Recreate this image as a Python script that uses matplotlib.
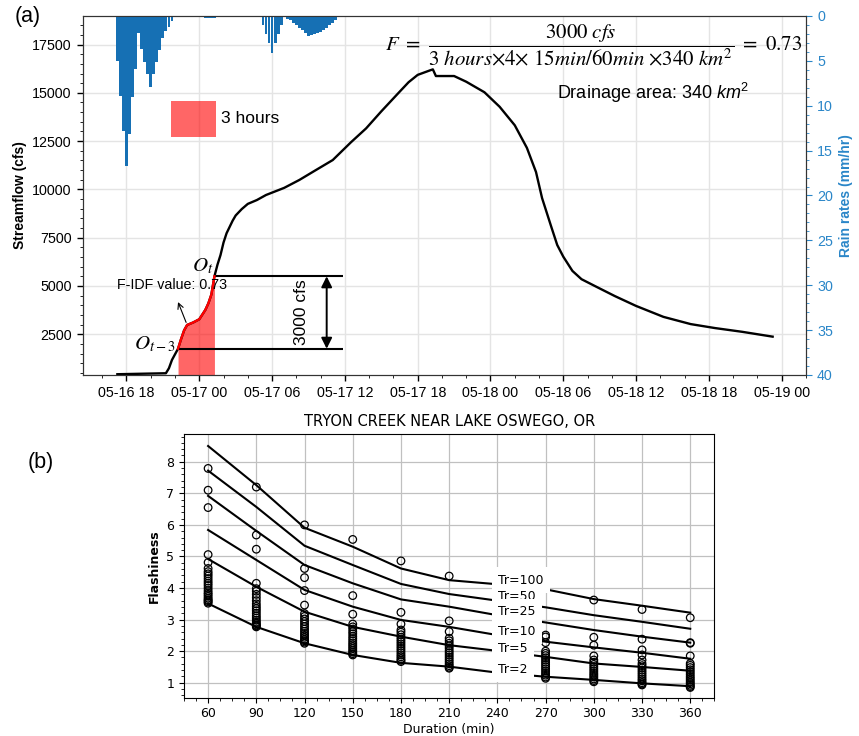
import numpy as np
import pandas as pd
import matplotlib
matplotlib.use("Agg")
import matplotlib.pyplot as plt
import matplotlib.dates as mdates
from matplotlib.patches import Rectangle
from matplotlib.ticker import AutoMinorLocator, MultipleLocator

plt.rcParams["font.family"] = ["Liberation Sans", "DejaVu Sans"]
plt.rcParams["mathtext.fontset"] = "custom"
plt.rcParams["mathtext.rm"] = "Liberation Sans"
plt.rcParams["mathtext.it"] = "Liberation Sans:italic"

YEAR = "2019-"

# ---------------- panel (a): hydrograph and rain ----------------
flow_time = [
    "05-16 17:15", "05-16 21:15", "05-16 21:30", "05-16 21:45", "05-16 22:15",
    "05-16 22:30", "05-16 22:45", "05-16 23:00", "05-16 23:30", "05-17 00:00",
    "05-17 00:30", "05-17 00:45", "05-17 01:00", "05-17 01:15", "05-17 01:30",
    "05-17 01:45", "05-17 02:00", "05-17 02:15", "05-17 02:45", "05-17 03:00",
    "05-17 03:30", "05-17 04:00", "05-17 04:45", "05-17 05:30",
    "05-17 07:00", "05-17 08:15", "05-17 09:30", "05-17 11:00", "05-17 12:30",
    "05-17 13:45", "05-17 15:00", "05-17 16:30", "05-17 17:15", "05-17 18:00",
    "05-17 19:00", "05-17 19:15", "05-17 19:30", "05-17 21:00", "05-17 22:00",
    "05-17 23:30", "05-18 00:45", "05-18 02:00", "05-18 03:00", "05-18 03:45",
    "05-18 04:15", "05-18 05:00", "05-18 05:30", "05-18 06:00", "05-18 06:45",
    "05-18 07:30", "05-18 08:45", "05-18 10:15", "05-18 12:00", "05-18 14:15",
    "05-18 16:30", "05-18 18:30", "05-18 20:45", "05-18 23:15",
]
flow_cfs = [
    430, 480, 740, 1170, 1750,
    2250, 2700, 2980, 3110, 3275,
    3760, 4100, 4560, 5500, 6100,
    6600, 7250, 7730, 8380, 8650,
    8980, 9250, 9450, 9710,
    10080, 10490, 10960, 11520, 12440,
    13160, 14040, 15050, 15550, 15930,
    16160, 16215, 15870, 15870, 15575,
    15030, 14280, 13320, 12150, 10900,
    9550, 8080, 7120, 6515, 5780,
    5350, 4950, 4475, 3965, 3400,
    3025, 2820, 2625, 2375,
]

# 15-min rain bursts (start time, rates in mm/hr)
burst1_start = "05-16 17:15"
burst1_rain = [5.0, 8.9, 12.8, 16.7, 13.1, 9.0, 5.9, 1.9, 3.7, 5.1, 6.5, 7.9,
               6.5, 5.1, 3.8, 2.5, 1.7, 1.2, 0.6, 0.15, 0.1, 0.05]
burst2_start = "05-17 00:15"
burst2_rain = [0.1, 0.2, 0.25, 0.25, 0.2, 0.1]
burst3_start = "05-17 05:15"
burst3_rain = [1.0, 2.0, 3.0, 4.1, 3.0, 2.0, 1.0]
burst4_start = "05-17 07:15"
burst4_rain = [0.3, 0.5, 0.75, 1.0, 1.3, 1.55, 1.85, 2.2, 2.1, 2.0, 1.9, 1.75,
               1.55, 1.3, 1.05, 0.75, 0.45, 0.15]
burst5_start = "05-17 13:45"
burst5_rain = [0.05, 0.1, 0.1, 0.05]
burst6_start = "05-17 18:15"
burst6_rain = [0.05, 0.1, 0.1, 0.05]

window_start = "05-16 22:15"
window_end = "05-17 01:15"
q_start = 1750
q_end = 5500

# ---------------- panel (b): flashiness IDF ----------------
durations = [60, 90, 120, 150, 180, 210, 240, 270, 300, 330, 360]
tr_labels = ["Tr=100", "Tr=50", "Tr=25", "Tr=10", "Tr=5", "Tr=2"]
tr100 = [8.50, 7.26, 5.91, 5.31, 4.62, 4.25, 4.12, 3.96, 3.65, 3.44, 3.22]
tr50 = [7.72, 6.57, 5.34, 4.73, 4.13, 3.81, 3.60, 3.39, 3.14, 2.93, 2.71]
tr25 = [6.92, 5.81, 4.73, 4.15, 3.64, 3.41, 3.14, 2.91, 2.67, 2.46, 2.27]
tr10 = [5.84, 4.89, 3.94, 3.41, 2.99, 2.77, 2.51, 2.30, 2.12, 1.95, 1.76]
tr5 = [4.92, 4.04, 3.25, 2.77, 2.46, 2.19, 2.01, 1.82, 1.61, 1.50, 1.38]
tr2 = [3.51, 2.77, 2.25, 1.88, 1.63, 1.51, 1.32, 1.19, 1.09, 0.98, 0.89]
tr_label_y = [4.25, 3.72, 3.25, 2.62, 2.09, 1.42]

obs = {
    60: [7.79, 7.1, 6.55, 5.06, 4.81, 4.62, 4.52, 4.45, 4.38, 4.3, 4.22, 4.15,
         4.08, 4.0, 3.92, 3.85, 3.8, 3.74, 3.68, 3.63, 3.6, 3.56, 3.52],
    90: [7.2, 5.68, 5.23, 4.15, 3.98, 3.9, 3.8, 3.7, 3.6, 3.5, 3.42, 3.35,
         3.28, 3.2, 3.12, 3.05, 2.98, 2.92, 2.87, 2.83, 2.8, 2.77],
    120: [6.0, 4.62, 4.33, 3.92, 3.46, 3.19, 3.1, 3.02, 2.94, 2.86, 2.78, 2.7,
          2.63, 2.56, 2.5, 2.44, 2.38, 2.33, 2.29, 2.25],
    150: [5.54, 3.76, 3.17, 2.86, 2.77, 2.7, 2.62, 2.55, 2.47, 2.4, 2.33, 2.26,
          2.2, 2.14, 2.08, 2.02, 1.97, 1.92, 1.88],
    180: [4.86, 3.23, 2.86, 2.67, 2.6, 2.52, 2.44, 2.37, 2.3, 2.23, 2.16, 2.09,
          2.02, 1.95, 1.88, 1.82, 1.76, 1.71, 1.67],
    210: [4.38, 2.96, 2.62, 2.41, 2.33, 2.25, 2.17, 2.1, 2.02, 1.95, 1.88, 1.81,
          1.74, 1.67, 1.6, 1.54, 1.49, 1.46],
    270: [3.99, 2.51, 2.45, 2.27, 2.0, 1.93, 1.86, 1.79, 1.72, 1.65, 1.58, 1.51,
          1.44, 1.37, 1.3, 1.24, 1.18, 1.14],
    300: [3.62, 2.44, 2.19, 1.85, 1.72, 1.65, 1.58, 1.51, 1.44, 1.37, 1.3, 1.24,
          1.18, 1.12, 1.07, 1.03],
    330: [3.32, 2.38, 2.04, 1.88, 1.72, 1.61, 1.54, 1.47, 1.4, 1.33, 1.26, 1.19,
          1.12, 1.06, 1.0, 0.96, 0.93],
    360: [3.06, 2.27, 2.25, 1.85, 1.61, 1.55, 1.48, 1.41, 1.34, 1.27, 1.2, 1.14,
          1.08, 1.02, 0.97, 0.92, 0.88, 0.85],
}


def ts(s):
    return pd.Timestamp(YEAR + s)


BLUE = "#1670b4"
TICKBLUE = "#2a86c8"

fig = plt.figure(figsize=(8.59, 7.36), dpi=100)

ax = fig.add_axes([0.0966, 0.4905, 0.8417, 0.4878])
t = pd.to_datetime([YEAR + s for s in flow_time])
q = np.array(flow_cfs, dtype=float)

ax.plot(t, q, color="black", lw=1.7, zorder=3)
sel = (t >= ts(window_start)) & (t <= ts(window_end))
ylo = 390
ax.fill_between(t[sel], ylo, q[sel], color="red", alpha=0.6, lw=0, zorder=2)
ax.plot(t[sel], q[sel], color="red", lw=1.7, zorder=4)

line_end = ts("05-17 11:50")
ax.hlines(q_end, ts(window_end), line_end, color="black", lw=1.5, zorder=3)
ax.hlines(q_start, ts(window_start), line_end, color="black", lw=1.5, zorder=3)
ax.annotate("", xy=(ts("05-17 10:30"), q_end), xytext=(ts("05-17 10:30"), q_start),
            arrowprops=dict(arrowstyle="<|-|>", color="black", lw=1.4,
                            mutation_scale=16, shrinkA=0, shrinkB=0))
ax.text(ts("05-17 08:25"), 3650, "3000 cfs", rotation=90, ha="center",
        va="center", fontsize=12.5)
ax.text(ts("05-17 01:12"), 6020, "$O_t$", ha="right", va="center",
        fontsize=15, math_fontfamily="stix", zorder=6)
ax.text(ts("05-16 22:05"), 2000, "$O_{t-3}$", ha="right", va="center",
        fontsize=15, math_fontfamily="stix", zorder=6)
ax.text(ts("05-16 17:15"), 5050, "F-IDF value: 0.73", ha="left", va="center",
        fontsize=10.3, zorder=6)
ax.annotate("", xy=(ts("05-16 22:10"), 4300), xytext=(ts("05-16 23:00"), 2980),
            arrowprops=dict(arrowstyle="->", color="black", lw=0.8))

ax.add_patch(Rectangle((mdates.date2num(ts("05-16 21:40")), 12730),
                       3.75 / 24, 1860, facecolor="red", alpha=0.6, lw=0,
                       zorder=3))
ax.text(ts("05-17 01:45"), 13680, "3 hours", ha="left", va="center",
        fontsize=12.5)

ax.text(0.9945, 0.918,
        r"$F\ =\ \dfrac{3000\ cfs}{3\ hours{\times}4{\times}\ 15min/60min\ {\times}340\ km^2}\ =\ 0.73$",
        transform=ax.transAxes, ha="right", va="center", fontsize=15,
        math_fontfamily="stix")
ax.text(0.655, 0.786, "Drainage area: 340 $km^2$", transform=ax.transAxes,
        ha="left", va="center", fontsize=13)

ax.set_xlim(ts("05-16 14:25"), ts("05-19 02:00"))
ax.set_ylim(ylo, 18980)
ax.xaxis.set_major_locator(mdates.HourLocator(byhour=[0, 6, 12, 18]))
ax.xaxis.set_minor_locator(mdates.HourLocator(byhour=range(0, 24, 2)))
ax.xaxis.set_major_formatter(mdates.DateFormatter("%m-%d %H"))
ax.yaxis.set_major_locator(MultipleLocator(2500))
ax.yaxis.set_minor_locator(AutoMinorLocator(5))
ax.tick_params(labelsize=10.3, length=4.5, width=1)
ax.tick_params(which="minor", length=2.5)
ax.set_ylabel("Streamflow (cfs)", fontsize=10, fontweight="bold")
ax.grid(True, which="major", color="#e4e4e4", lw=1)
for s in ax.spines.values():
    s.set_color("#333333")

axr = ax.twinx()
for start, vals in [(burst1_start, burst1_rain), (burst2_start, burst2_rain),
                    (burst3_start, burst3_rain), (burst4_start, burst4_rain),
                    (burst5_start, burst5_rain), (burst6_start, burst6_rain)]:
    bt = pd.date_range(ts(start), periods=len(vals), freq="15min")
    axr.bar(bt, vals, width=14 / 1440, color=BLUE, lw=0)
axr.set_ylim(40, 0)
axr.yaxis.set_major_locator(MultipleLocator(5))
axr.yaxis.set_minor_locator(AutoMinorLocator(5))
axr.tick_params(axis="y", colors=TICKBLUE, labelsize=10.3, length=4.5)
axr.tick_params(axis="y", which="minor", length=2.5, colors=TICKBLUE)
axr.set_ylabel("Rain rates (mm/hr)", color=TICKBLUE, fontsize=10,
               fontweight="bold")
for s in axr.spines.values():
    s.set_color("#333333")
ax.set_xlim(ts("05-16 14:25"), ts("05-19 02:00"))

fig.text(0.017, 0.977, "(a)", fontsize=15.5, va="center")
fig.text(0.032, 0.372, "(b)", fontsize=15.5, va="center")

# ---------------- panel (b) ----------------
dv = ["DejaVu Sans"]
bx = fig.add_axes([0.2142, 0.052, 0.6174, 0.3583])
for d, vals in obs.items():
    bx.scatter([d] * len(vals), vals, s=30, facecolors="none",
               edgecolors="black", linewidths=0.9, zorder=3)
for curve in [tr100, tr50, tr25, tr10, tr5, tr2]:
    bx.plot(durations, curve, color="black", lw=1.5, zorder=4)
for lab, y in zip(tr_labels, tr_label_y):
    bx.text(240.5, y, lab, ha="left", va="center", fontsize=9, family=dv,
            zorder=5, bbox=dict(facecolor="white", edgecolor="none",
                                boxstyle="square,pad=0.5"))
bx.set_xlim(45, 375)
bx.set_ylim(0.525, 8.88)
bx.set_xticks(durations)
bx.yaxis.set_major_locator(MultipleLocator(1))
bx.xaxis.set_minor_locator(AutoMinorLocator())
bx.yaxis.set_minor_locator(AutoMinorLocator())
bx.grid(True, which="major", color="#c0c0c0", lw=0.9)
bx.set_axisbelow(True)
bx.tick_params(labelsize=9)
for lab in bx.get_xticklabels() + bx.get_yticklabels():
    lab.set_family(dv)
bx.set_title("TRYON CREEK NEAR LAKE OSWEGO, OR", fontsize=10.5, family=dv,
             pad=6)
bx.set_xlabel("Duration (min)", fontsize=9, family=dv, labelpad=2)
bx.set_ylabel("Flashiness", fontsize=9, family=dv, fontweight="bold")

fig.savefig("out.png", dpi=100)
